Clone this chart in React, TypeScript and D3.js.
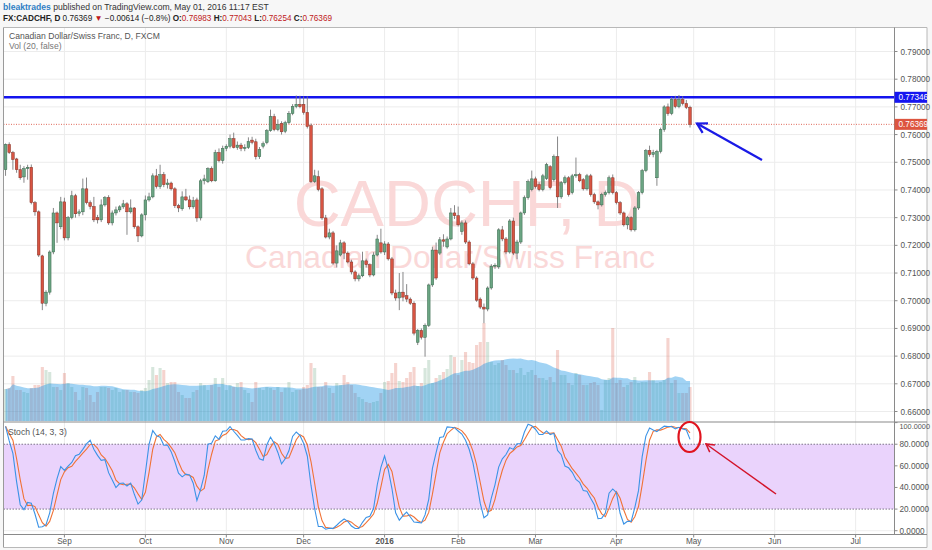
import * as d3 from "d3";

// trading calendar (FXCM daily bars, holidays skipped)
const startDate = "2015-08-10";
const axisEndDate = "2016-07-15";
const holidays = ["2015-12-25", "2016-01-01", "2016-03-25"];

const opens = [
  0.7473, 0.7564, 0.7535, 0.7512, 0.7473, 0.7447, 0.7477, 0.7482, 0.7354, 0.7321,
  0.7162, 0.6991, 0.7031, 0.7176, 0.7317, 0.7267, 0.7357, 0.7227, 0.73, 0.7379,
  0.7316, 0.7321, 0.7404, 0.7354, 0.734, 0.73, 0.7292, 0.7346, 0.7372, 0.7281,
  0.7317, 0.7328, 0.7339, 0.735, 0.7321, 0.7335, 0.7267, 0.7234, 0.731, 0.7364,
  0.7375, 0.7451, 0.7412, 0.7455, 0.7419, 0.7425, 0.7404, 0.7343, 0.7332, 0.7375,
  0.7364, 0.7339, 0.7364, 0.7299, 0.7433, 0.743, 0.7477, 0.7433, 0.7535, 0.7506,
  0.755, 0.7558, 0.7585, 0.7553, 0.7562, 0.755, 0.7553, 0.758, 0.7574, 0.752,
  0.7558, 0.7571, 0.7614, 0.7665, 0.7618, 0.764, 0.7612, 0.7643, 0.7676, 0.7701,
  0.7709, 0.7709, 0.768, 0.7632, 0.743, 0.7448, 0.7404, 0.7299, 0.723, 0.7245,
  0.7136, 0.7165, 0.7209, 0.7172, 0.714, 0.7104, 0.7079, 0.709, 0.7144, 0.713,
  0.7093, 0.7165, 0.7209, 0.7176, 0.7205, 0.7151, 0.7028, 0.701, 0.7031, 0.7018,
  0.7006, 0.6991, 0.685, 0.6893, 0.6868, 0.6911, 0.7057, 0.7183, 0.7172, 0.722,
  0.7194, 0.7223, 0.7317, 0.7307, 0.725, 0.7281, 0.7212, 0.7133, 0.7082, 0.7006,
  0.6977, 0.697, 0.7046, 0.7125, 0.7122, 0.7256, 0.7223, 0.7176, 0.7288, 0.7172,
  0.7212, 0.7317, 0.7372, 0.7401, 0.744, 0.7419, 0.7401, 0.7441, 0.7484, 0.7437,
  0.752, 0.7375, 0.7426, 0.7444, 0.739, 0.7451, 0.7455, 0.7437, 0.7404, 0.7451,
  0.7383, 0.7357, 0.7346, 0.7383, 0.739, 0.7444, 0.739, 0.7354, 0.7317, 0.7274,
  0.73, 0.7256, 0.7335, 0.739, 0.747, 0.7542, 0.7528, 0.7444, 0.7539, 0.7618,
  0.77, 0.7676, 0.7727, 0.7701, 0.7727, 0.7712, 0.76983,
];

const highs = [
  0.7568, 0.7572, 0.7541, 0.7516, 0.7491, 0.7486, 0.7491, 0.7492, 0.736, 0.7326,
  0.7166, 0.7038, 0.7182, 0.7335, 0.7322, 0.7375, 0.7372, 0.7306, 0.7397, 0.7386,
  0.733, 0.7441, 0.7445, 0.7362, 0.7375, 0.731, 0.7366, 0.7378, 0.7381, 0.7326,
  0.734, 0.7345, 0.7364, 0.7356, 0.7366, 0.7338, 0.7272, 0.7316, 0.738, 0.739,
  0.746, 0.7476, 0.7491, 0.7465, 0.744, 0.743, 0.741, 0.735, 0.7395, 0.7404,
  0.738, 0.7375, 0.7372, 0.744, 0.7455, 0.7482, 0.7485, 0.7545, 0.755, 0.756,
  0.7565, 0.76, 0.7607, 0.7575, 0.757, 0.7565, 0.759, 0.7592, 0.7585, 0.7555,
  0.7575, 0.762, 0.769, 0.7675, 0.7655, 0.7648, 0.765, 0.7685, 0.771, 0.7741,
  0.774, 0.7738, 0.7738, 0.764, 0.7473, 0.747, 0.741, 0.731, 0.726, 0.7252,
  0.72, 0.722, 0.7215, 0.7178, 0.7148, 0.711, 0.7098, 0.7177, 0.7152, 0.7135,
  0.7175, 0.7238, 0.726, 0.7215, 0.7212, 0.7158, 0.704, 0.71, 0.7104, 0.706,
  0.7012, 0.6998, 0.6898, 0.69, 0.6918, 0.7062, 0.7195, 0.721, 0.723, 0.724,
  0.7232, 0.7335, 0.7345, 0.734, 0.729, 0.729, 0.7218, 0.714, 0.7088, 0.7012,
  0.699, 0.7052, 0.7132, 0.7135, 0.7262, 0.727, 0.723, 0.7295, 0.73, 0.722,
  0.7322, 0.738, 0.7438, 0.747, 0.7448, 0.7428, 0.7458, 0.7498, 0.749, 0.7528,
  0.7593, 0.7432, 0.7452, 0.745, 0.7458, 0.7517, 0.7462, 0.7443, 0.7458, 0.7458,
  0.739, 0.7362, 0.739, 0.7398, 0.7452, 0.7456, 0.7396, 0.736, 0.7322, 0.7306,
  0.7305, 0.7342, 0.7396, 0.7476, 0.7548, 0.756, 0.7545, 0.7545, 0.7625, 0.7706,
  0.7712, 0.7735, 0.774, 0.7743, 0.7738, 0.7725, 0.77043,
];

const lows = [
  0.7451, 0.753, 0.7473, 0.7462, 0.7437, 0.7426, 0.7437, 0.7348, 0.7307, 0.7158,
  0.6966, 0.698, 0.7022, 0.7168, 0.7209, 0.7258, 0.7218, 0.7218, 0.7294, 0.73,
  0.7305, 0.7309, 0.7348, 0.733, 0.7284, 0.7279, 0.7284, 0.734, 0.7274, 0.7272,
  0.7308, 0.732, 0.7332, 0.7238, 0.7315, 0.726, 0.7212, 0.7229, 0.729, 0.7358,
  0.737, 0.7405, 0.7404, 0.741, 0.7405, 0.7398, 0.7335, 0.732, 0.7325, 0.736,
  0.733, 0.7332, 0.7285, 0.729, 0.742, 0.7425, 0.7428, 0.743, 0.75, 0.7495,
  0.754, 0.755, 0.755, 0.7545, 0.754, 0.754, 0.7548, 0.7565, 0.751, 0.7512,
  0.755, 0.7565, 0.761, 0.7612, 0.7612, 0.76, 0.7605, 0.7638, 0.767, 0.7695,
  0.7695, 0.7672, 0.7622, 0.7425, 0.7425, 0.7395, 0.7292, 0.7225, 0.7222, 0.713,
  0.712, 0.716, 0.715, 0.7135, 0.7095, 0.707, 0.707, 0.7085, 0.712, 0.7085,
  0.7088, 0.716, 0.717, 0.7165, 0.7145, 0.702, 0.7, 0.6966, 0.6998, 0.6995,
  0.6985, 0.6875, 0.684, 0.686, 0.6798, 0.6905, 0.705, 0.7075, 0.7165, 0.7195,
  0.7188, 0.7218, 0.7295, 0.7268, 0.7238, 0.7205, 0.7128, 0.7075, 0.6996, 0.697,
  0.6919, 0.6962, 0.704, 0.7115, 0.7115, 0.7215, 0.7168, 0.717, 0.7165, 0.715,
  0.7205, 0.731, 0.7365, 0.7395, 0.7405, 0.7395, 0.7395, 0.7436, 0.7402, 0.743,
  0.7335, 0.7368, 0.742, 0.7376, 0.7384, 0.7444, 0.7428, 0.7398, 0.7398, 0.7376,
  0.735, 0.733, 0.734, 0.7376, 0.7384, 0.7384, 0.7348, 0.731, 0.7268, 0.7258,
  0.725, 0.725, 0.7328, 0.7384, 0.7464, 0.752, 0.7518, 0.7415, 0.7532, 0.761,
  0.7668, 0.767, 0.7695, 0.7695, 0.7705, 0.7692, 0.76254,
];

const closes = [
  0.7564, 0.7535, 0.751, 0.7473, 0.7444, 0.7477, 0.7482, 0.7354, 0.7321, 0.7165,
  0.6991, 0.7031, 0.7176, 0.7317, 0.7281, 0.7357, 0.7227, 0.73, 0.7379, 0.7314,
  0.7321, 0.7404, 0.7354, 0.734, 0.7292, 0.7292, 0.7346, 0.7372, 0.7281, 0.7317,
  0.7328, 0.7339, 0.735, 0.7321, 0.7335, 0.7267, 0.7234, 0.731, 0.7364, 0.7375,
  0.7451, 0.7412, 0.7455, 0.7419, 0.7425, 0.7404, 0.7343, 0.7335, 0.7375, 0.7364,
  0.7339, 0.7361, 0.7299, 0.7433, 0.744, 0.7477, 0.7433, 0.7535, 0.7506, 0.755,
  0.7558, 0.7585, 0.7553, 0.7562, 0.755, 0.7553, 0.7575, 0.7572, 0.752, 0.7546,
  0.7567, 0.7614, 0.7665, 0.7618, 0.7636, 0.761, 0.7643, 0.7676, 0.7701, 0.7709,
  0.7701, 0.768, 0.7629, 0.743, 0.7451, 0.7401, 0.7299, 0.723, 0.7245, 0.7136,
  0.718, 0.7209, 0.7172, 0.714, 0.7104, 0.7079, 0.709, 0.7144, 0.713, 0.7093,
  0.7165, 0.7223, 0.7176, 0.7205, 0.7151, 0.7028, 0.701, 0.7031, 0.7013, 0.7006,
  0.6991, 0.6883, 0.6893, 0.6868, 0.6911, 0.7057, 0.7183, 0.7082, 0.722, 0.7215,
  0.7223, 0.7317, 0.7307, 0.7274, 0.7281, 0.7212, 0.7133, 0.7082, 0.7002, 0.6977,
  0.697, 0.7046, 0.7125, 0.7128, 0.7256, 0.7223, 0.7176, 0.7288, 0.7172, 0.7212,
  0.7317, 0.7372, 0.743, 0.744, 0.7412, 0.7401, 0.7451, 0.7491, 0.7408, 0.752,
  0.7375, 0.7426, 0.7444, 0.7383, 0.7451, 0.7455, 0.7433, 0.7404, 0.7451, 0.7383,
  0.7357, 0.7346, 0.7383, 0.739, 0.7444, 0.739, 0.7354, 0.7317, 0.7274, 0.73,
  0.7256, 0.7335, 0.739, 0.747, 0.7542, 0.7528, 0.7535, 0.7539, 0.7618, 0.77,
  0.7676, 0.7727, 0.7701, 0.7727, 0.7712, 0.7698, 0.76369,
];

const volumes = [
  32, 33, 45, 31, 31, 29, 28, 33, 36, 36,
  54, 51, 49, 34, 34, 31, 48, 38, 34, 29,
  21, 34, 33, 26, 19, 29, 34, 34, 33, 31,
  33, 29, 31, 31, 29, 29, 28, 31, 33, 41,
  54, 46, 53, 51, 38, 39, 39, 29, 26, 23,
  23, 29, 31, 38, 36, 31, 36, 43, 34, 43,
  31, 36, 34, 38, 39, 31, 28, 19, 39, 33,
  31, 34, 33, 31, 34, 29, 33, 39, 29, 31,
  31, 34, 36, 58, 53, 34, 34, 39, 33, 28,
  38, 36, 46, 39, 36, 28, 24, 22, 19, 18,
  19, 20, 28, 39, 40, 48, 58, 40, 39, 43,
  49, 54, 35, 38, 53, 61, 38, 43, 46, 49,
  52, 66, 64, 46, 61, 69, 59, 58, 76, 79,
  98, 79, 59, 56, 58, 61, 56, 51, 51, 48,
  53, 46, 49, 51, 46, 43, 43, 41, 44, 39,
  71, 46, 46, 38, 36, 48, 46, 36, 36, 38,
  39, 36, 11, 41, 43, 93, 38, 41, 34, 36,
  39, 44, 38, 39, 39, 49, 41, 38, 39, 41,
  83, 38, 41, 28, 28, 28, 34,
];

const priceTicks = [0.66, 0.67, 0.68, 0.69, 0.7, 0.71, 0.72, 0.73, 0.74, 0.75, 0.76, 0.77, 0.78, 0.79];
const stochTicks = [0, 20, 40, 60, 80, 100];
const monthKeys = ["2015-09", "2015-10", "2015-11", "2015-12", "2016-01", "2016-02", "2016-03", "2016-04", "2016-05", "2016-06", "2016-07"];
const monthLabels = ["Sep", "Oct", "Nov", "Dec", "2016", "Feb", "Mar", "Apr", "May", "Jun", "Jul"];
const resistance = 0.77346;
const lastClose = 0.76369;

const FONT = "'Liberation Sans', Arial, sans-serif";

// layout
const W = 932;
const H = 550;
const paneL = 3.5;
const paneR = 894.5;
const mainTop = 27.5;
const mainBottom = 422;
const stochBottom = 534.5;
const axisBottom = 547.5;
const step = 3.68;

export default function App() {
  const fmt = d3.timeFormat("%Y-%m-%d");
  const parse = d3.timeParse("%Y-%m-%d");
  const days = d3.timeDay
    .range(parse(startDate)!, d3.timeDay.offset(parse(axisEndDate)!, 1))
    .filter((d) => d.getDay() > 0 && d.getDay() < 6)
    .map(fmt)
    .filter((s) => !holidays.includes(s));
  const barDays = days.slice(0, closes.length);

  /* -----------------------------
      SCALES
  ----------------------------- */
  const x = d3
    .scaleBand<string>()
    .domain(days)
    .range([3.7, 3.7 + days.length * step])
    .padding(0);
  const cx = (i: number) => x(barDays[i])! + x.bandwidth() / 2;

  const py = d3.scaleLinear().domain([0.66, 0.79]).range([411.5, 51.5]);
  const vy = d3.scaleLinear().domain([0, 100]).range([421, 321]);
  const sy = d3.scaleLinear().domain([0, 100]).range([530.7, 422.6]);

  /* -----------------------------
      INDICATORS
  ----------------------------- */
  const sma = (arr: number[], n: number) =>
    arr.map((_, i) => d3.mean(arr.slice(Math.max(0, i - n + 1), i + 1))!);
  const rawK = closes.map((c, i) => {
    const lo = d3.min(lows.slice(Math.max(0, i - 13), i + 1))!;
    const hi = d3.max(highs.slice(Math.max(0, i - 13), i + 1))!;
    return hi > lo ? (100 * (c - lo)) / (hi - lo) : 50;
  });
  const kLine = sma(rawK, 3);
  const dLine = sma(kLine, 3);
  const volMA = sma(volumes, 20);

  const stochPath = d3
    .line<number>()
    .x((_, i) => cx(i))
    .y((d) => sy(d));
  const maArea = d3
    .area<number>()
    .x((_, i) => cx(i))
    .y0(vy(0))
    .y1((d) => vy(d));

  const monthX = monthKeys.map((k) => {
    const d = days.find((s) => s.startsWith(k))!;
    return x(d)! + x.bandwidth() / 2;
  });

  const arrowHead = (x1: number, y1: number, x2: number, y2: number, len: number) => {
    const a = Math.atan2(y1 - y2, x1 - x2);
    const p1 = [x2 + len * Math.cos(a - 0.52), y2 + len * Math.sin(a - 0.52)];
    const p2 = [x2 + len * Math.cos(a + 0.52), y2 + len * Math.sin(a + 0.52)];
    return `M${p1[0]},${p1[1]}L${x2},${y2}L${p2[0]},${p2[1]}`;
  };

  return (
    <svg
      width={W}
      height={H}
      style={{ position: "absolute", left: 0, top: 0, fontFamily: FONT }}
    >
      <defs>
        <clipPath id="mainClip">
          <rect x={paneL} y={mainTop} width={paneR - paneL} height={mainBottom - mainTop} />
        </clipPath>
        <clipPath id="stochClip">
          <rect x={paneL} y={mainBottom} width={paneR - paneL} height={stochBottom - mainBottom} />
        </clipPath>
      </defs>

      <rect x={0} y={0} width={W} height={H} fill="#f7f7f7" />
      <rect x={paneL} y={mainTop} width={927 - paneL} height={axisBottom - mainTop} fill="#ffffff" />

      {/* HEADER */}
      <text x={3} y={10} fontSize={8.6} fill="#333">
        <tspan fill="#2f7fc4" fontWeight="bold">bleaktrades</tspan>
        <tspan> published on TradingView.com, May 01, 2016 11:17 EST</tspan>
      </text>
      <text x={3} y={20.5} fontSize={8.2} fill="#222">
        <tspan fontWeight="bold">FX:CADCHF, D</tspan>
        <tspan> 0.76369 </tspan>
        <tspan fill="#c0191b">▼</tspan>
        <tspan> −0.00614 (−0.8%) </tspan>
        <tspan fontWeight="bold">O:</tspan>
        <tspan fill="#c0191b">0.76983 </tspan>
        <tspan fontWeight="bold">H:</tspan>
        <tspan fill="#c0191b">0.77043 </tspan>
        <tspan fontWeight="bold">L:</tspan>
        <tspan fill="#c0191b">0.76254 </tspan>
        <tspan fontWeight="bold">C:</tspan>
        <tspan fill="#c0191b">0.76369</tspan>
      </text>

      {/* GRID */}
      {priceTicks.map((t) => (
        <line key={t} x1={paneL} x2={paneR} y1={py(t)} y2={py(t)} stroke="#ececec" />
      ))}
      {[0, 40, 60].map((t) => (
        <line key={t} x1={paneL} x2={paneR} y1={sy(t)} y2={sy(t)} stroke="#eeeeee" />
      ))}
      {monthX.map((mx, i) => (
        <line key={i} x1={mx} x2={mx} y1={mainTop} y2={stochBottom} stroke="#ececec" />
      ))}

      {/* WATERMARK */}
      <text x={467} y={226} fontSize={65} textAnchor="middle" fill="#fad8d8">
        CADCHF, D
      </text>
      <text x={450} y={268} fontSize={31.8} textAnchor="middle" fill="#fad8d8">
        Canadian Dollar/Swiss Franc
      </text>

      <g clipPath="url(#mainClip)">
        {/* VOLUME */}
        {volumes.map((v, i) => (
          <rect
            key={i}
            x={cx(i) - 1.55}
            y={vy(v)}
            width={3.1}
            height={vy(0) - vy(v)}
            fill={closes[i] >= opens[i] ? "rgba(107,165,131,0.28)" : "rgba(215,84,66,0.26)"}
          />
        ))}
        <path d={maArea(volMA)!} fill="rgba(20,145,228,0.4)" />

        {/* RESISTANCE + LAST PRICE */}
        <line x1={paneL} x2={paneR} y1={py(lastClose)} y2={py(lastClose)} stroke="#e06a5a" strokeDasharray="1,1.5" />
        <line x1={paneL} x2={paneR} y1={py(resistance)} y2={py(resistance)} stroke="#1414ee" strokeWidth={2.6} />

        {/* CANDLES */}
        {closes.map((c, i) => {
          const up = c >= opens[i];
          const top = py(Math.max(opens[i], c));
          const bot = py(Math.min(opens[i], c));
          return (
            <g key={i}>
              <line x1={cx(i)} x2={cx(i)} y1={py(highs[i])} y2={py(lows[i])} stroke="#7a7a7c" strokeWidth={0.9} />
              <rect
                x={cx(i) - 1.35}
                y={top}
                width={2.7}
                height={Math.max(0.9, bot - top)}
                fill={up ? "#6ba583" : "#d75442"}
                stroke={up ? "#2f5f44" : "#7a2a1f"}
                strokeWidth={0.45}
              />
            </g>
          );
        })}
      </g>

      {/* LEGENDS */}
      <text x={9} y={39} fontSize={8.6} fill="#555">Canadian Dollar/Swiss Franc, D, FXCM</text>
      <text x={9} y={49} fontSize={8.6} fill="#777">Vol (20, false)</text>

      {/* STOCH PANE */}
      <g clipPath="url(#stochClip)">
        <rect x={paneL} y={sy(80)} width={paneR - paneL} height={sy(20) - sy(80)} fill="#ead3fc" />
        <line x1={paneL} x2={paneR} y1={sy(80)} y2={sy(80)} stroke="#7d7589" strokeDasharray="1.5,1.5" />
        <line x1={paneL} x2={paneR} y1={sy(20)} y2={sy(20)} stroke="#7d7589" strokeDasharray="1.5,1.5" />
        <path d={stochPath(dLine)!} fill="none" stroke="#f07236" strokeWidth={1.1} />
        <path d={stochPath(kLine)!} fill="none" stroke="#3b93e6" strokeWidth={1.1} />
      </g>
      <text x={8} y={434.5} fontSize={8.6} fill="#555">Stoch (14, 3, 3)</text>

      {/* FRAMES */}
      <line x1={paneL} x2={927} y1={mainTop} y2={mainTop} stroke="#b8b8b8" />
      <line x1={paneL} x2={paneL} y1={mainTop} y2={axisBottom} stroke="#9a9a9a" />
      <line x1={927} x2={927} y1={mainTop} y2={axisBottom} stroke="#b8b8b8" />
      <line x1={paneL} x2={927} y1={mainBottom} y2={mainBottom} stroke="#8a8a8a" strokeWidth={1.2} />
      <line x1={paneL} x2={927} y1={stochBottom} y2={stochBottom} stroke="#8a8a8a" />
      <line x1={paneL} x2={927} y1={axisBottom} y2={axisBottom} stroke="#b8b8b8" />
      <line x1={paneR} x2={paneR} y1={mainTop} y2={stochBottom} stroke="#8a8a8a" />

      {/* PRICE AXIS */}
      {priceTicks.map((t) => (
        <g key={t}>
          <line x1={paneR} x2={paneR + 3} y1={py(t)} y2={py(t)} stroke="#8a8a8a" />
          <text x={paneR + 6} y={py(t) + 3} fontSize={8.2} fill="#555">
            {d3.format(".5f")(t)}
          </text>
        </g>
      ))}
      <rect x={paneR} y={py(resistance) - 5.5} width={32.5} height={11} fill="#1616f0" />
      <text x={paneR + 4} y={py(resistance) + 3} fontSize={8.2} fill="#ffffff">
        {d3.format(".5f")(resistance)}
      </text>
      <rect x={paneR} y={py(lastClose) - 5.5} width={32.5} height={11} fill="#dd553f" />
      <text x={paneR + 4} y={py(lastClose) + 3} fontSize={8.2} fill="#ffffff">
        {d3.format(".5f")(lastClose)}
      </text>

      {/* STOCH AXIS */}
      {stochTicks.map((t) => (
        <g key={t}>
          <line x1={paneR} x2={paneR + 3} y1={sy(t)} y2={sy(t)} stroke="#8a8a8a" />
          <text
            x={paneR + 5}
            y={t === 100 ? sy(t) + 6.5 : sy(t) + 3}
            fontSize={t === 100 ? 7.3 : 8.2}
            fill="#555"
          >
            {d3.format(".4f")(t)}
          </text>
        </g>
      ))}

      {/* TIME AXIS */}
      {monthX.map((mx, i) => (
        <g key={i}>
          <line x1={mx} x2={mx} y1={stochBottom} y2={stochBottom + 3} stroke="#8a8a8a" />
          <text
            x={mx}
            y={544}
            fontSize={8.2}
            textAnchor="middle"
            fill="#555"
            fontWeight={monthLabels[i] === "2016" ? "bold" : "normal"}
          >
            {monthLabels[i]}
          </text>
        </g>
      ))}

      {/* ANNOTATIONS */}
      <line x1={762} y1={160} x2={697} y2={123.5} stroke="#1a1ae6" strokeWidth={2.2} />
      <path d={arrowHead(762, 160, 697, 123.5, 11)} fill="none" stroke="#1a1ae6" strokeWidth={2.2} />
      <ellipse cx={689.5} cy={437} rx={11} ry={15} fill="none" stroke="#e0141e" strokeWidth={2.2} />
      <line x1={776} y1={494} x2={706} y2={444} stroke="#d3142a" strokeWidth={1.5} />
      <path d={arrowHead(776, 494, 706, 444, 9)} fill="none" stroke="#d3142a" strokeWidth={1.5} />
    </svg>
  );
}
